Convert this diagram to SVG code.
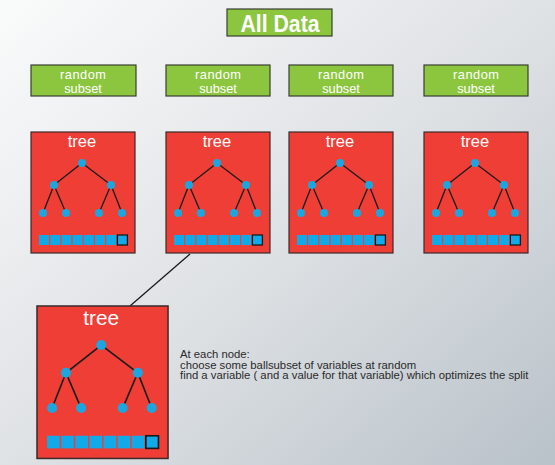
<svg xmlns="http://www.w3.org/2000/svg" width="555" height="465" viewBox="0 0 555 465">
  <defs>
    <linearGradient id="bg" x1="0" y1="0" x2="1" y2="1">
      <stop offset="0" stop-color="#fafbfb"/>
      <stop offset="0.5" stop-color="#dfe2e5"/>
      <stop offset="1" stop-color="#b9c2c9"/>
    </linearGradient>
    <!-- one tree card, drawn at the small size; the big one reuses it scaled -->
    <g id="treecard">
      <rect class="card" x="0" y="0" width="104" height="121"/>
      <text class="treelabel" x="51" y="15">tree</text>
      <g class="edges">
        <line x1="51" y1="31" x2="23" y2="53"/>
        <line x1="51" y1="31" x2="80" y2="53"/>
        <line x1="23" y1="53" x2="12" y2="81"/>
        <line x1="23" y1="53" x2="35" y2="81"/>
        <line x1="80" y1="53" x2="68" y2="81"/>
        <line x1="80" y1="53" x2="91" y2="81"/>
      </g>
      <g class="dots">
        <circle cx="51" cy="31" r="4"/>
        <circle cx="23" cy="53" r="4"/>
        <circle cx="80" cy="53" r="4"/>
        <circle cx="12" cy="81" r="4"/>
        <circle cx="35" cy="81" r="4"/>
        <circle cx="68" cy="81" r="4"/>
        <circle cx="91" cy="81" r="4"/>
      </g>
      <g class="cells">
        <rect x="8" y="103" width="10" height="10"/>
        <rect x="19.2" y="103" width="10" height="10"/>
        <rect x="30.4" y="103" width="10" height="10"/>
        <rect x="41.6" y="103" width="10" height="10"/>
        <rect x="52.8" y="103" width="10" height="10"/>
        <rect x="64" y="103" width="10" height="10"/>
        <rect x="75.2" y="103" width="10" height="10"/>
        <rect class="last" x="86.4" y="103" width="10" height="10"/>
      </g>
    </g>
  </defs>
  <style>
    .green { fill: #8cc63f; stroke: #3a3f34; stroke-width: 1.2; }
    .card { fill: #ef3e36; stroke: #3b2b2b; stroke-width: 1.2; }
    .treelabel { font-family: "Liberation Sans", Arial, sans-serif; font-size: 16.5px; fill: #ffffff; text-anchor: middle; }
    .edges line { stroke: #1a1a1a; stroke-width: 1.3; }
    .dots circle { fill: #1ba6e0; }
    .cells rect { fill: #12a9e8; }
    .cells rect.last { stroke: #1a1a1a; stroke-width: 1.3; }
    .sub { font-family: "Liberation Sans", Arial, sans-serif; font-size: 12.8px; fill: #ffffff; text-anchor: middle; }
    .title { font-family: "Liberation Sans", Arial, sans-serif; font-size: 23px; font-weight: bold; fill: #ffffff; text-anchor: middle; }
    .note { font-family: "Liberation Sans", Arial, sans-serif; font-size: 11.3px; fill: #2a2a2a; }
    .link { stroke: #1a1a1a; stroke-width: 1.3; fill: none; }
  </style>

  <rect x="0" y="0" width="555" height="465" fill="url(#bg)"/>

  <g id="all-data">
    <rect class="green" x="227" y="9" width="105" height="27"/>
    <text class="title" x="280" y="32" textLength="79" lengthAdjust="spacingAndGlyphs">All Data</text>
  </g>

  <g id="subset-1">
    <rect class="green" x="31" y="65" width="105" height="31"/>
    <text class="sub" x="83" y="78.5" textLength="46">random</text>
    <text class="sub" x="83" y="92.5">subset</text>
  </g>
  <g id="subset-2">
    <rect class="green" x="166" y="65" width="104" height="31"/>
    <text class="sub" x="218" y="78.5" textLength="46">random</text>
    <text class="sub" x="218" y="92.5">subset</text>
  </g>
  <g id="subset-3">
    <rect class="green" x="289" y="65" width="104" height="31"/>
    <text class="sub" x="341" y="78.5" textLength="46">random</text>
    <text class="sub" x="341" y="92.5">subset</text>
  </g>
  <g id="subset-4">
    <rect class="green" x="424" y="65" width="104" height="31"/>
    <text class="sub" x="476" y="78.5" textLength="46">random</text>
    <text class="sub" x="476" y="92.5">subset</text>
  </g>

  <g id="connectors">
    <line class="link" x1="190" y1="254" x2="130" y2="306"/>
  </g>

  <g id="tree-1"><use href="#treecard" x="31" y="132"/></g>
  <g id="tree-2"><use href="#treecard" x="166" y="132"/></g>
  <g id="tree-3"><use href="#treecard" x="289" y="132"/></g>
  <g id="tree-4"><use href="#treecard" x="424" y="132"/></g>

  <g id="tree-detail">
    <use href="#treecard" transform="translate(37 306) scale(1.26)"/>
  </g>

  <g id="note">
    <text class="note" x="180" y="358">At each node:</text>
    <text class="note" x="180" y="368.5">choose some ballsubset of variables at random</text>
    <text class="note" x="180" y="379">find a variable ( and a value for that variable) which optimizes the split</text>
  </g>
</svg>
